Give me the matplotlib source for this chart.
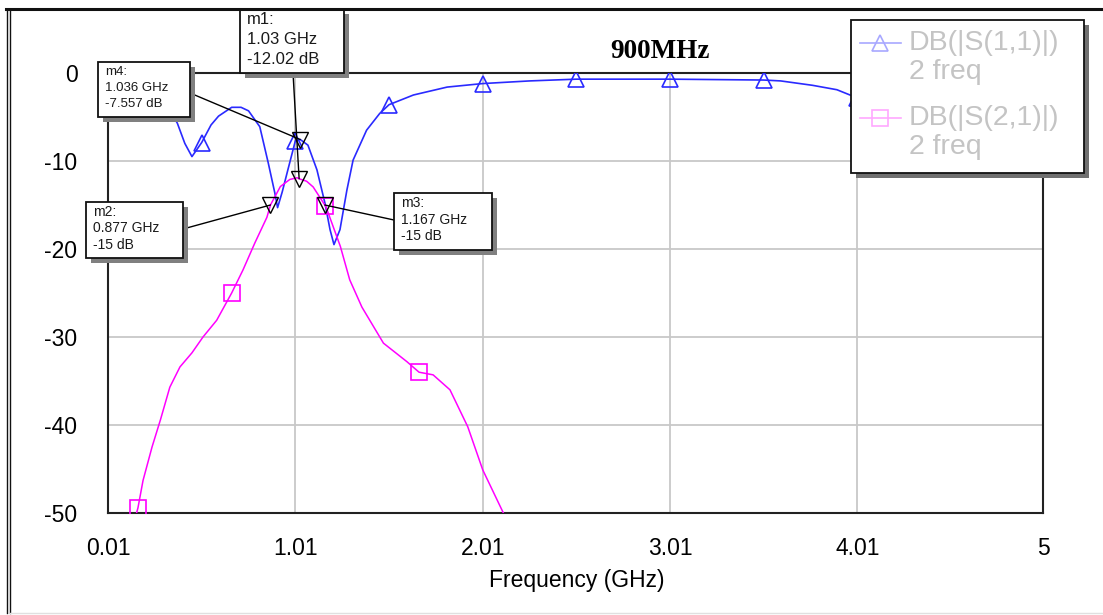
import matplotlib
matplotlib.use("Agg")
import matplotlib.pyplot as plt
from matplotlib.patches import Rectangle
from matplotlib.lines import Line2D

plt.rcParams['font.family'] = ['Liberation Sans', 'DejaVu Sans']
plt.rcParams['axes.unicode_minus'] = False

# S11 trace (GHz, dB)
f11 = [0.01, 0.1, 0.2, 0.3, 0.38, 0.42, 0.458, 0.51, 0.56, 0.6, 0.67, 0.72, 0.76,
       0.82, 0.865, 0.9, 0.915, 0.94, 0.97, 1.01, 1.036, 1.077, 1.125, 1.168, 1.195,
       1.216, 1.248, 1.285, 1.318, 1.39, 1.46, 1.51, 1.64, 1.82, 2.01, 2.26, 2.51,
       3.01, 3.51, 3.6, 3.77, 3.9, 3.97, 4.01, 4.2, 4.51, 4.8, 5.0]
s11 = [-0.1, -0.4, -1.3, -3.0, -5.7, -8.0, -9.5, -7.9, -5.9, -4.9, -3.9, -3.9, -4.3,
       -6.1, -10.2, -13.6, -15.3, -13.5, -11.0, -7.7, -7.557, -8.2, -11.0, -14.8, -17.8,
       -19.5, -17.8, -13.3, -9.9, -6.5, -4.6, -3.6, -2.5, -1.6, -1.2, -0.9, -0.7,
       -0.7, -0.8, -0.9, -1.4, -1.9, -2.5, -2.8, -4.0, -6.0, -7.5, -8.5]
s11_marks = [0.01, 0.51, 1.01, 1.51, 2.01, 2.51, 3.01, 3.51, 4.01, 4.51]

# S21 trace (GHz, dB)
f21 = [0.01, 0.1, 0.16, 0.17, 0.197, 0.245, 0.29, 0.34, 0.394, 0.458, 0.517, 0.59,
       0.67, 0.73, 0.794, 0.858, 0.877, 0.93, 0.98, 1.02, 1.03, 1.07, 1.105, 1.17,
       1.18, 1.25, 1.3, 1.365, 1.48, 1.605, 1.67, 1.745, 1.835, 1.93, 2.01, 2.12,
       2.17, 2.5]
s21 = [-75, -58, -50.2, -49.4, -46.3, -42.5, -39.4, -35.7, -33.4, -31.8, -30.0, -28.1,
       -25.0, -22.4, -19.3, -16.4, -15.0, -12.9, -12.1, -11.9, -12.02, -12.3, -12.95, -15.1,
       -15.6, -19.7, -23.5, -26.6, -30.7, -32.8, -34.0, -34.3, -36.0, -40.2, -45.1, -50.0,
       -52.5, -65]
s21_marks = [0.17, 0.67, 1.17, 1.67, 2.17]

# readout markers
mk_names = ['m1', 'm2', 'm3', 'm4']
mk_freq = [1.03, 0.877, 1.167, 1.036]
mk_db = [-12.02, -15, -15, -7.557]

xticks = [0.01, 1.01, 2.01, 3.01, 4.01, 5]
xtick_labels = ['0.01', '1.01', '2.01', '3.01', '4.01', '5']
yticks = [0, -10, -20, -30, -40, -50]
legend_labels = ['DB(|S(1,1)|)\n2 freq', 'DB(|S(2,1)|)\n2 freq']

W, H = 1103, 615


def fx(x):
    return x / W


def fy(y):
    return 1 - y / H


fig = plt.figure(figsize=(W / 100, H / 100), dpi=100)
ax = fig.add_axes([fx(108), fy(513), (1043 - 108) / W, (513 - 73) / H])

blue = '#2a2aff'
pink = '#ff00ff'
idx11 = [i for i, f in enumerate(f11) if f in s11_marks]
idx21 = [i for i, f in enumerate(f21) if f in s21_marks]
ax.plot(f11, s11, color=blue, lw=1.2, marker='^', ms=12, mfc='none', mec=blue,
        mew=1.2, markevery=idx11, zorder=3)
ax.plot(f21, s21, color=pink, lw=1.1, marker='s', ms=12, mfc='none', mec=pink,
        mew=1.2, markevery=idx21, zorder=3)

ax.set_xlim(0.01, 5)
ax.set_ylim(-50, 0)
ax.set_xticks(xticks)
ax.set_xticklabels(xtick_labels)
ax.set_yticks(yticks)
ax.grid(color='#c8c8c8', lw=1.3)
ax.set_axisbelow(True)
ax.tick_params(length=0, labelsize=16.5)
ax.tick_params(axis='x', pad=17)
ax.tick_params(axis='y', pad=22)
for s in ax.spines.values():
    s.set_color('#222222')
    s.set_linewidth(1.5)

ax.set_xlabel('Frequency (GHz)', fontsize=16.5)
ax.xaxis.set_label_coords((577 - 108) / 935, (513 - 580) / 440)
ax.xaxis.label.set_va('center')

fig.text(fx(660), fy(52), '900MHz', family='Liberation Serif', weight='bold',
         size=19.5, ha='center', va='center')

# marker boxes: (x0, y0, x1, y1, leader start x, y, font size, line gap)
boxes = {
    'm1': (240, 9, 344, 73, 293, 73, 12, 20.5),
    'm2': (86, 202, 183, 258, 183, 229, 10, 16.5),
    'm3': (394, 193, 492, 250, 394, 220, 10, 16.5),
    'm4': (98, 62, 190, 117, 190, 93, 9.5, 16),
}

for name, f, v in zip(mk_names, mk_freq, mk_db):
    x0, y0, x1, y1, lx, ly, fs, gap = boxes[name]
    ax.annotate('', xy=(f, v), xytext=(lx, H - ly), textcoords='figure pixels',
                arrowprops=dict(arrowstyle='-', color='black', lw=1, shrinkA=0, shrinkB=0),
                annotation_clip=False, zorder=4)
    ax.plot([f], [v], marker='v', ms=11, mfc='none', mec='black', mew=1, zorder=5,
            clip_on=False)
    fig.add_artist(Rectangle((fx(x0 + 5), fy(y1 + 5)), (x1 - x0) / W, (y1 - y0) / H,
                             transform=fig.transFigure, fc='#808080', ec='none'))
    fig.add_artist(Rectangle((fx(x0), fy(y1)), (x1 - x0) / W, (y1 - y0) / H,
                             transform=fig.transFigure, fc='white', ec='#111111', lw=1.3))
    lines = [name + ':', f'{f:g} GHz', f'{v:g} dB']
    for k, t in enumerate(lines):
        fig.text(fx(x0 + 7), fy(y0 + 10 + k * gap), t, fontsize=fs, color='#1a1a1a',
                 ha='left', va='center')

# legend box
lx0, ly0, lx1, ly1 = 851, 20, 1084, 173
fig.add_artist(Rectangle((fx(lx0 + 5), fy(ly1 + 5)), (lx1 - lx0) / W, (ly1 - ly0) / H,
                         transform=fig.transFigure, fc='#707070', ec='none'))
fig.add_artist(Rectangle((fx(lx0), fy(ly1)), (lx1 - lx0) / W, (ly1 - ly0) / H,
                         transform=fig.transFigure, fc='white', ec='#111111', lw=1.3))
leg_style = [('#a8a8ff', '^', 43), ('#ffa8ff', 's', 118)]
for (c, m, yy), lab in zip(leg_style, legend_labels):
    fig.add_artist(Line2D([fx(860), fx(901)], [fy(yy), fy(yy)], color=c, lw=1.2,
                          transform=fig.transFigure))
    fig.add_artist(Line2D([fx(880)], [fy(yy)], color=c, marker=m, ms=11, mfc='none',
                          mew=1.2, transform=fig.transFigure))
    first, second = lab.split('\n')
    fig.text(fx(909), fy(yy), first, fontsize=20.5, color='#c4c4c4', ha='left', va='center')
    fig.text(fx(909), fy(yy + 29), second, fontsize=20.5, color='#c4c4c4', ha='left',
             va='center')

# outer frame of the screenshot
fig.add_artist(Line2D([fx(6), 1], [fy(8.5), fy(8.5)], color='#111111', lw=2.2))
fig.add_artist(Line2D([fx(10), fx(10)], [fy(11), fy(613)], color='#111111', lw=1))
fig.add_artist(Line2D([fx(6.5), fx(6.5)], [fy(8.5), fy(613)], color='#111111', lw=1))
fig.add_artist(Line2D([fx(10), 1], [fy(613), fy(613)], color='#e0e0e0', lw=1))

fig.savefig('out.png', dpi=100)
